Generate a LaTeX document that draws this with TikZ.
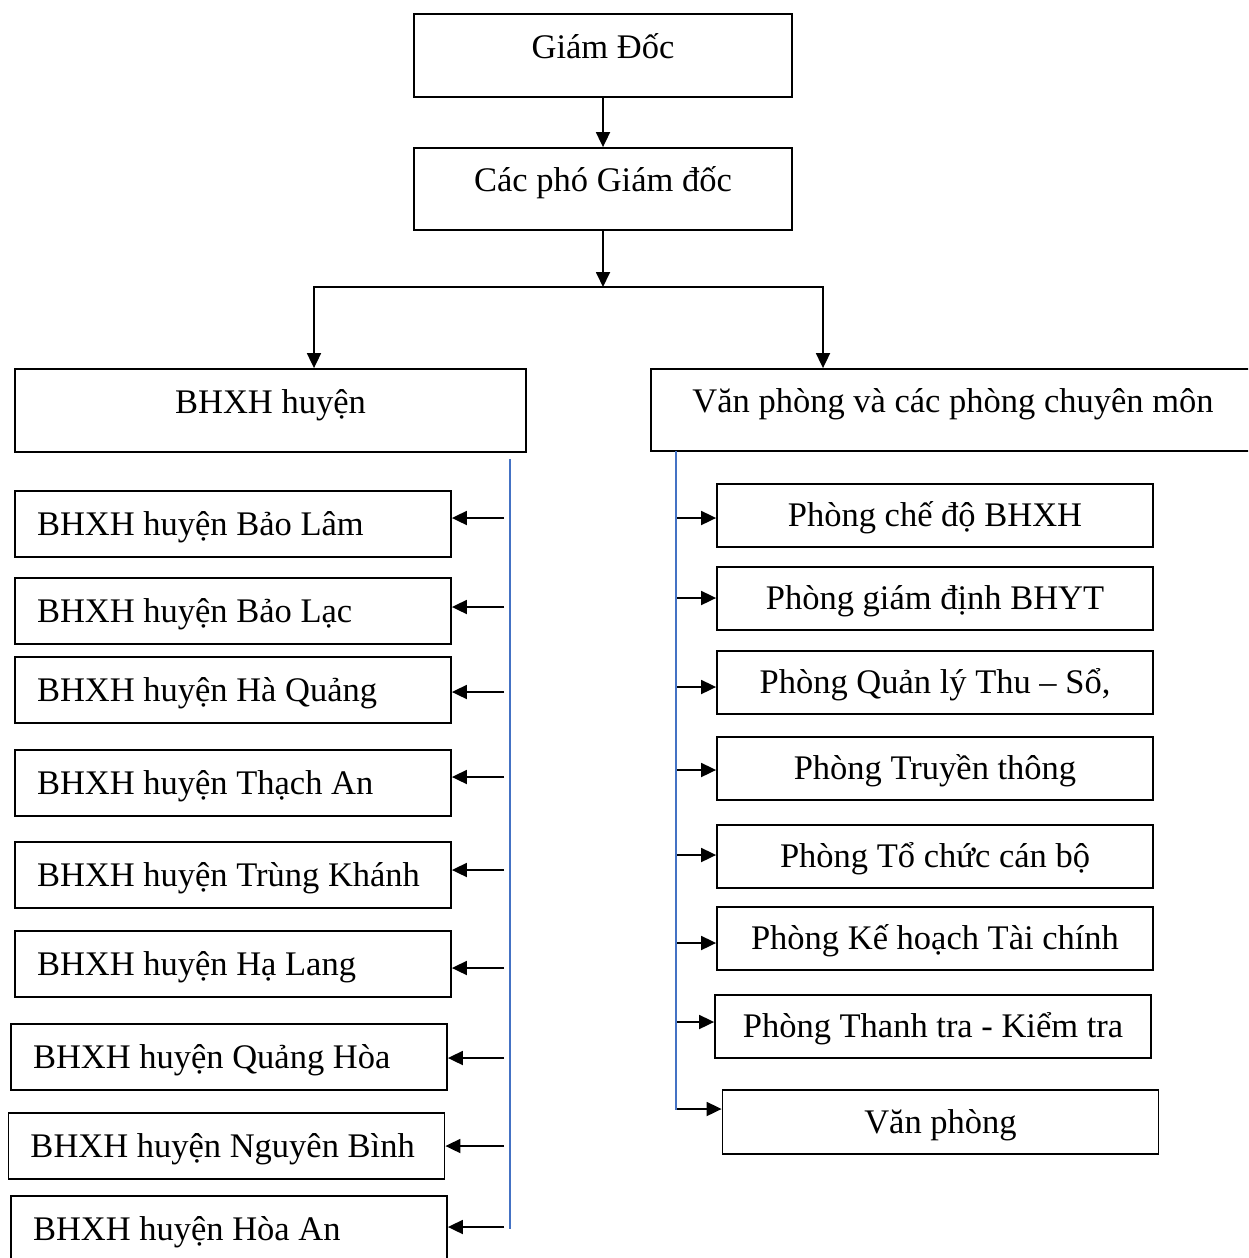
\documentclass[tikz,border=0pt]{standalone}
\usepackage{fontspec}
\setmainfont{Liberation Serif}
\usetikzlibrary{arrows.meta}
\definecolor{busblue}{HTML}{4472C4}
\begin{document}
\begin{tikzpicture}[x=1pt,y=-1pt,
  font=\fontsize{34.5}{40}\selectfont,
  box/.style={draw, line width=1.8pt, inner sep=0pt, rectangle},
  bigbox/.style={box, text height=20pt, text depth=15pt},
  smallbox/.style={box, text height=22pt, text depth=0pt, minimum height=63pt, minimum width=436pt},
  leftbox/.style={box, text height=22pt, text depth=0pt, minimum height=66pt, text width=392pt, align=flush left, inner xsep=22pt, inner ysep=0pt},
  arr/.style={line width=1.8pt, -{Triangle[length=15pt,width=14pt]}},
  bus/.style={draw=busblue, line width=1.6pt}]
\useasboundingbox (0,0) rectangle (1248,1258);
\clip (0,0) rectangle (1248,1258);

% top
\node[bigbox, minimum width=378pt, minimum height=83pt] (gd) at (603,55.5) {Giám Đốc};
\node[bigbox, minimum width=378pt, minimum height=82pt] (pgd) at (603,189) {Các phó Giám đốc};
\node[bigbox, minimum width=511pt, minimum height=83pt] (hx) at (270.5,410.5) {BHXH huyện};
\node[bigbox, minimum width=604pt, minimum height=82pt] (vp) at (953,410) {Văn phòng và các phòng chuyên môn};

\coordinate (j) at (603,287);
\coordinate (jl) at (314,287);
\coordinate (jr) at (823,287);
\draw[arr] (gd) -- (pgd);
\draw[arr] (pgd) -- (j);
\draw[arr] (j) -| (jl |- hx.north);
\draw[arr] (j) -| (jr |- vp.north);

% left column
\node[leftbox] (b1) at (233,524) {BHXH huyện Bảo Lâm};
\node[leftbox] (b2) at (233,611) {BHXH huyện Bảo Lạc};
\node[leftbox] (b3) at (233,690) {BHXH huyện Hà Quảng};
\node[leftbox] (b4) at (233,783) {BHXH huyện Thạch An};
\node[leftbox] (b5) at (233,875) {BHXH huyện Trùng Khánh};
\node[leftbox] (b6) at (233,964) {BHXH huyện Hạ Lang};
\node[leftbox] (b7) at (229,1057) {BHXH huyện Quảng Hòa};
\node[leftbox] (b8) at (226.5,1146) {BHXH huyện Nguyên Bình};
\node[leftbox] (b9) at (229,1229) {BHXH huyện Hòa An};

\coordinate (bl0) at (510,459);
\coordinate (bl1) at (510,1229);
\draw[bus] (bl0) -- (bl1);

\coordinate (tl1) at (504,518);
\coordinate (tl2) at (504,607);
\coordinate (tl3) at (504,692);
\coordinate (tl4) at (504,777);
\coordinate (tl5) at (504,870);
\coordinate (tl6) at (504,968);
\coordinate (tl7) at (504,1058);
\coordinate (tl8) at (504,1146);
\coordinate (tl9) at (504,1227);
\draw[arr] (tl1) -- (tl1 -| b1.east);
\draw[arr] (tl2) -- (tl2 -| b2.east);
\draw[arr] (tl3) -- (tl3 -| b3.east);
\draw[arr] (tl4) -- (tl4 -| b4.east);
\draw[arr] (tl5) -- (tl5 -| b5.east);
\draw[arr] (tl6) -- (tl6 -| b6.east);
\draw[arr] (tl7) -- (tl7 -| b7.east);
\draw[arr] (tl8) -- (tl8 -| b8.east);
\draw[arr] (tl9) -- (tl9 -| b9.east);

% right column
\node[smallbox] (r1) at (935,515.5) {Phòng chế độ BHXH};
\node[smallbox] (r2) at (935,598.5) {Phòng giám định BHYT};
\node[smallbox] (r3) at (935,682.5) {Phòng Quản lý Thu – Sổ,};
\node[smallbox] (r4) at (935,768.5) {Phòng Truyền thông};
\node[smallbox] (r5) at (935,856.5) {Phòng Tổ chức cán bộ};
\node[smallbox] (r6) at (935,938.5) {Phòng Kế hoạch Tài chính};
\node[smallbox] (r7) at (933,1026.5) {Phòng Thanh tra - Kiểm tra};
\node[smallbox, minimum height=64pt] (r8) at (940.5,1122) {Văn phòng};

\coordinate (br0) at (676,451);
\coordinate (br1) at (676,1110);
\draw[bus] (br0) -- (br1);

\coordinate (tr1) at (677,518);
\coordinate (tr2) at (677,598);
\coordinate (tr3) at (677,687);
\coordinate (tr4) at (677,770);
\coordinate (tr5) at (677,855);
\coordinate (tr6) at (677,943);
\coordinate (tr7) at (677,1022);
\coordinate (tr8) at (677,1109);
\draw[arr] (tr1) -- (tr1 -| r1.west);
\draw[arr] (tr2) -- (tr2 -| r2.west);
\draw[arr] (tr3) -- (tr3 -| r3.west);
\draw[arr] (tr4) -- (tr4 -| r4.west);
\draw[arr] (tr5) -- (tr5 -| r5.west);
\draw[arr] (tr6) -- (tr6 -| r6.west);
\draw[arr] (tr7) -- (tr7 -| r7.west);
\draw[arr] (tr8) -- (tr8 -| r8.west);
\end{tikzpicture}
\end{document}
